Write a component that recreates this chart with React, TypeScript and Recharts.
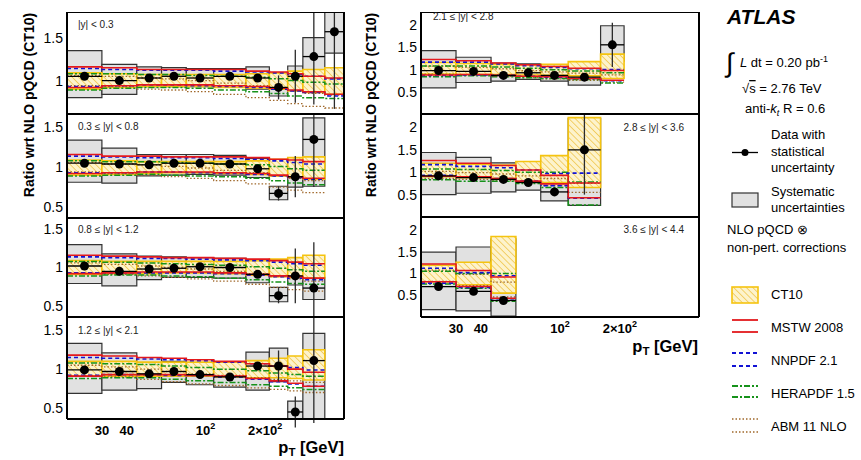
import React from "react";
import {
  ComposedChart,
  XAxis,
  YAxis,
  Line,
  Scatter,
  ErrorBar,
  ReferenceArea,
} from "recharts";

const FONT = '"Liberation Sans", Arial, Helvetica, sans-serif';

// jet pT bin edges [GeV]
const PT_EDGES = [20, 30, 45, 60, 80, 110, 160, 210, 260, 310, 400, 500];
const PT_DOMAIN: [number, number] = [20, 500];

const RAPIDITY_LABELS = [
  "|y| < 0.3",
  "0.3 \u2264 |y| < 0.8",
  "0.8 \u2264 |y| < 1.2",
  "1.2 \u2264 |y| < 2.1",
  "2.1 \u2264 |y| < 2.8",
  "2.8 \u2264 |y| < 3.6",
  "3.6 \u2264 |y| < 4.4",
];

// tick labels on the pT axis
const PT_LABEL_TICKS = [30, 40, 100, 200];
const PT_LABEL_BASE = ["30", "40", "10", "2\u00d710"];
const PT_LABEL_EXP = ["", "", "2", "2"];
const PT_MINOR_TICKS = [20, 30, 40, 50, 60, 70, 80, 90, 200, 300, 400, 500];
const PT_MAJOR_TICKS = [100];

// data / NLO (CT10), one row per rapidity bin
const dataRatio = [
  [1.05, 1.0, 1.03, 1.05, 1.03, 1.05, 1.03, 0.92, 1.05, 1.28, 1.57],
  [1.05, 1.04, 1.03, 1.05, 1.05, 1.04, 0.98, 0.67, 0.88, 1.35],
  [1.02, 0.95, 0.98, 0.99, 1.01, 1.0, 0.91, 0.63, 0.89, 0.73],
  [0.99, 0.97, 0.94, 0.97, 0.93, 0.9, 1.04, 1.04, 0.45, 1.11],
  [0.98, 0.96, 0.87, 0.93, 0.87, 0.83, 1.56],
  [0.92, 0.88, 0.84, 0.77, 0.56, 1.5],
  [0.7, 0.59, 0.38],
];

const statErr = [
  [0.01, 0.01, 0.01, 0.01, 0.01, 0.015, 0.02, 0.14, 0.31, 0.56, 0.9],
  [0.01, 0.01, 0.01, 0.01, 0.01, 0.015, 0.05, 0.09, 0.26, 0.6],
  [0.01, 0.01, 0.01, 0.01, 0.01, 0.015, 0.04, 0.1, 0.36, 0.6],
  [0.01, 0.01, 0.01, 0.01, 0.01, 0.02, 0.05, 0.2, 0.2, 0.8],
  [0.01, 0.01, 0.01, 0.015, 0.02, 0.03, 0.5],
  [0.01, 0.01, 0.015, 0.02, 0.04, 1.0],
  [0.02, 0.03, 0.05],
];

const sysLow = [
  [0.8, 0.84, 0.93, 0.93, 0.93, 0.92, 0.9, 0.82, 0.93, 1.09, 1.32],
  [0.81, 0.8, 0.89, 0.9, 0.91, 0.9, 0.87, 0.59, 0.75, 0.76],
  [0.79, 0.76, 0.84, 0.87, 0.87, 0.86, 0.8, 0.55, 0.77, 0.58],
  [0.69, 0.73, 0.75, 0.83, 0.8, 0.77, 0.73, 0.84, 0.36, 0.36],
  [0.59, 0.71, 0.74, 0.78, 0.74, 0.65, 1.19],
  [0.5, 0.53, 0.56, 0.6, 0.36, 0.26],
  [0.17, 0.14, 0.02],
];

const sysHigh = [
  [1.35, 1.19, 1.16, 1.15, 1.14, 1.14, 1.16, 1.02, 1.17, 1.5, 1.9],
  [1.34, 1.24, 1.16, 1.16, 1.16, 1.15, 1.11, 0.76, 1.12, 1.62],
  [1.3, 1.18, 1.15, 1.14, 1.13, 1.12, 1.05, 0.74, 1.08, 0.87],
  [1.33, 1.21, 1.15, 1.1, 1.08, 1.05, 1.22, 1.27, 0.59, 1.46],
  [1.43, 1.28, 1.15, 1.13, 1.09, 1.11, 1.99],
  [1.44, 1.33, 1.21, 1.13, 1.05, 2.2],
  [1.49, 1.61, 1.8],
];

const ct10Low = [
  [0.9, 0.92, 0.93, 0.93, 0.93, 0.92, 0.91, 0.9, 0.88, 0.86, 0.84],
  [0.9, 0.91, 0.92, 0.93, 0.93, 0.92, 0.91, 0.89, 0.87, 0.85],
  [0.91, 0.92, 0.92, 0.93, 0.93, 0.92, 0.9, 0.88, 0.87, 0.86],
  [0.91, 0.91, 0.91, 0.91, 0.91, 0.9, 0.89, 0.89, 0.88, 0.86],
  [0.9, 0.89, 0.89, 0.88, 0.87, 0.86, 0.8],
  [0.9, 0.88, 0.86, 0.78, 0.77, 0.66],
  [0.81, 0.74, 0.55],
];

const ct10High = [
  [1.09, 1.08, 1.07, 1.07, 1.07, 1.07, 1.08, 1.09, 1.11, 1.13, 1.15],
  [1.09, 1.08, 1.07, 1.07, 1.07, 1.07, 1.08, 1.1, 1.12, 1.13],
  [1.09, 1.08, 1.08, 1.08, 1.08, 1.08, 1.09, 1.11, 1.13, 1.16],
  [1.1, 1.1, 1.09, 1.09, 1.09, 1.09, 1.11, 1.14, 1.17, 1.25],
  [1.16, 1.14, 1.12, 1.11, 1.12, 1.18, 1.35],
  [1.2, 1.18, 1.16, 1.24, 1.37, 2.22],
  [1.19, 1.26, 1.85],
];

const mstwLow = [
  [0.92, 0.94, 0.95, 0.95, 0.95, 0.94, 0.93, 0.91, 0.89, 0.87, 0.84],
  [0.92, 0.93, 0.94, 0.94, 0.94, 0.93, 0.92, 0.9, 0.88, 0.86],
  [0.92, 0.93, 0.94, 0.94, 0.94, 0.93, 0.91, 0.89, 0.88, 0.86],
  [0.91, 0.93, 0.93, 0.93, 0.92, 0.91, 0.88, 0.85, 0.82, 0.78],
  [0.88, 0.89, 0.87, 0.85, 0.84, 0.8, 0.76],
  [0.91, 0.9, 0.86, 0.8, 0.74, 0.43],
  [0.81, 0.7, 0.43],
];

const mstwHigh = [
  [1.16, 1.15, 1.13, 1.13, 1.13, 1.13, 1.11, 1.1, 1.08, 1.05, 1.03],
  [1.16, 1.14, 1.14, 1.13, 1.13, 1.13, 1.12, 1.1, 1.09, 1.07],
  [1.16, 1.15, 1.14, 1.13, 1.13, 1.12, 1.11, 1.09, 1.07, 1.05],
  [1.18, 1.17, 1.15, 1.14, 1.12, 1.1, 1.07, 1.04, 1.0, 0.96],
  [1.23, 1.2, 1.15, 1.11, 1.07, 1.03, 0.98],
  [1.26, 1.2, 1.15, 1.05, 0.93, 0.76],
  [1.22, 1.07, 0.92],
];

const nnpdfLow = [
  [0.93, 0.94, 0.95, 0.95, 0.94, 0.93, 0.92, 0.9, 0.88, 0.86, 0.82],
  [0.93, 0.93, 0.94, 0.94, 0.93, 0.92, 0.91, 0.89, 0.87, 0.85],
  [0.93, 0.93, 0.93, 0.93, 0.93, 0.92, 0.9, 0.88, 0.86, 0.84],
  [0.92, 0.93, 0.93, 0.92, 0.92, 0.9, 0.87, 0.84, 0.81, 0.78],
  [0.87, 0.88, 0.87, 0.85, 0.83, 0.8, 0.75],
  [0.93, 0.9, 0.86, 0.8, 0.7, 0.42],
  [0.78, 0.68, 0.42],
];

const nnpdfHigh = [
  [1.14, 1.13, 1.12, 1.12, 1.12, 1.11, 1.1, 1.09, 1.07, 1.05, 1.02],
  [1.14, 1.13, 1.12, 1.12, 1.12, 1.11, 1.1, 1.08, 1.06, 1.04],
  [1.14, 1.13, 1.12, 1.12, 1.11, 1.1, 1.09, 1.07, 1.05, 1.03],
  [1.15, 1.14, 1.13, 1.12, 1.11, 1.09, 1.07, 1.04, 1.02, 0.99],
  [1.17, 1.17, 1.13, 1.09, 1.05, 1.02, 1.0],
  [1.17, 1.13, 1.1, 1.05, 0.97, 0.98],
  [1.12, 1.02, 0.95],
];

const heraLow = [
  [0.89, 0.91, 0.92, 0.92, 0.91, 0.89, 0.87, 0.85, 0.82, 0.8, 0.79],
  [0.89, 0.9, 0.91, 0.9, 0.89, 0.88, 0.86, 0.83, 0.8, 0.78],
  [0.89, 0.9, 0.9, 0.89, 0.88, 0.86, 0.84, 0.81, 0.79, 0.78],
  [0.88, 0.89, 0.89, 0.87, 0.85, 0.83, 0.8, 0.78, 0.76, 0.74],
  [0.84, 0.86, 0.84, 0.82, 0.8, 0.78, 0.7],
  [0.83, 0.8, 0.8, 0.75, 0.66, 0.27],
  [0.76, 0.66, 0.36],
];

const heraHigh = [
  [1.08, 1.08, 1.07, 1.07, 1.06, 1.05, 1.04, 1.02, 1.0, 0.98, 0.96],
  [1.08, 1.07, 1.07, 1.06, 1.05, 1.04, 1.03, 1.01, 0.98, 0.96],
  [1.08, 1.07, 1.06, 1.05, 1.04, 1.03, 1.01, 0.99, 0.97, 0.95],
  [1.08, 1.07, 1.06, 1.04, 1.02, 1.0, 0.98, 0.95, 0.93, 0.91],
  [1.08, 1.08, 1.06, 1.03, 1.0, 0.97, 0.93],
  [1.07, 1.06, 1.04, 1.0, 1.0, 0.78],
  [1.05, 1.0, 1.0],
];

const abmLow = [
  [0.94, 0.93, 0.9, 0.89, 0.87, 0.84, 0.8, 0.77, 0.73, 0.7, 0.68],
  [0.94, 0.92, 0.9, 0.88, 0.86, 0.83, 0.79, 0.75, 0.71, 0.68],
  [0.93, 0.91, 0.89, 0.87, 0.85, 0.82, 0.78, 0.74, 0.71, 0.69],
  [0.92, 0.9, 0.87, 0.84, 0.81, 0.79, 0.76, 0.74, 0.72, 0.7],
  [0.9, 0.88, 0.85, 0.82, 0.79, 0.76, 0.72],
  [0.86, 0.84, 0.81, 0.77, 0.7, 0.55],
  [0.82, 0.72, 0.46],
];

const abmHigh = [
  [1.06, 1.05, 1.03, 1.02, 1.0, 0.97, 0.94, 0.91, 0.88, 0.85, 0.83],
  [1.06, 1.04, 1.03, 1.01, 0.99, 0.96, 0.93, 0.89, 0.86, 0.83],
  [1.06, 1.04, 1.02, 1.0, 0.98, 0.95, 0.92, 0.88, 0.85, 0.82],
  [1.05, 1.03, 1.0, 0.97, 0.94, 0.92, 0.89, 0.87, 0.85, 0.83],
  [1.08, 1.05, 1.02, 0.98, 0.95, 0.92, 0.88],
  [1.02, 0.99, 0.96, 0.92, 0.86, 0.75],
  [1.08, 0.98, 0.8],
];

const COLORS = {
  ct10Edge: "#f5c40f",
  ct10Line: "#ebb928",
  ct10Fill: "#fdf3cc",
  mstw: "#e3191c",
  nnpdf: "#1212d4",
  hera: "#16921a",
  abm: "#a0682a",
  sysFill: "#e1e1e1",
  sysEdge: "#333333",
};

// axes that only carry tick marks get a near-zero thickness so they take no room
const THIN = 0.01;

type PanelBox = {
  left: number;
  top: number;
  height: number;
  marginLeft: number;
  marginRight: number;
  yDomain: [number, number];
  yMajor: number[];
  labelX: number;
  labelY: number;
  labelAnchor: "start" | "end";
  ptAxis: boolean;
};

const PANELS: PanelBox[] = [
  { left: 0, top: 12, height: 102, marginLeft: 67, marginRight: 16, yDomain: [0.61, 1.8], yMajor: [1, 1.5], labelX: 78, labelY: 27.5, labelAnchor: "start", ptAxis: false },
  { left: 0, top: 114, height: 104, marginLeft: 67, marginRight: 16, yDomain: [0.36, 1.67], yMajor: [0.5, 1, 1.5], labelX: 78, labelY: 129.5, labelAnchor: "start", ptAxis: false },
  { left: 0, top: 218, height: 99, marginLeft: 67, marginRight: 16, yDomain: [0.35, 1.65], yMajor: [0.5, 1, 1.5], labelX: 78, labelY: 232.5, labelAnchor: "start", ptAxis: false },
  { left: 0, top: 317, height: 102, marginLeft: 67, marginRight: 16, yDomain: [0.36, 1.67], yMajor: [0.5, 1, 1.5], labelX: 78, labelY: 333.5, labelAnchor: "start", ptAxis: true },
  { left: 360, top: 12, height: 102, marginLeft: 61, marginRight: 21, yDomain: [0, 2.3], yMajor: [0.5, 1, 1.5, 2], labelX: 433, labelY: 20, labelAnchor: "start", ptAxis: false },
  { left: 360, top: 114, height: 103, marginLeft: 61, marginRight: 21, yDomain: [0, 2.3], yMajor: [0.5, 1, 1.5, 2], labelX: 684, labelY: 130.5, labelAnchor: "end", ptAxis: false },
  { left: 360, top: 217, height: 100, marginLeft: 61, marginRight: 21, yDomain: [0, 2.3], yMajor: [0.5, 1, 1.5, 2], labelX: 684, labelY: 232.5, labelAnchor: "end", ptAxis: true },
];

function minorTicks([lo, hi]: [number, number]) {
  const out: number[] = [];
  for (let k = Math.ceil(lo * 10); k <= Math.floor(hi * 10); k++) out.push(k / 10);
  return out;
}

function PtTick(props: any) {
  const { x, y, payload } = props;
  const k = PT_LABEL_TICKS.indexOf(payload.value);
  if (k < 0) return null;
  return (
    <text x={x} y={y + 16} textAnchor="middle" fontFamily={FONT} fontSize={13} fontWeight="bold" fill="#000">
      <tspan>{PT_LABEL_BASE[k]}</tspan>
      {PT_LABEL_EXP[k] && (
        <tspan dy={-6} fontSize={9}>
          {PT_LABEL_EXP[k]}
        </tspan>
      )}
    </text>
  );
}

const DataDot = (p: any) => <circle cx={p.cx} cy={p.cy} r={4.5} fill="#000" />;

function RatioPanel({ index }: { index: number }) {
  const box = PANELS[index];
  const n = dataRatio[index].length;
  const edges = PT_EDGES.slice(0, n + 1);

  // histogram steps: one row per bin edge, last edge repeats last bin
  const steps = edges.map((pt, i) => {
    const b = Math.min(i, n - 1);
    return {
      pt,
      mstwLo: mstwLow[index][b],
      mstwHi: mstwHigh[index][b],
      nnpdfLo: nnpdfLow[index][b],
      nnpdfHi: nnpdfHigh[index][b],
      heraLo: heraLow[index][b],
      heraHi: heraHigh[index][b],
      abmLo: abmLow[index][b],
      abmHi: abmHigh[index][b],
    };
  });

  const points = dataRatio[index].map((ratio, i) => {
    const c = Math.sqrt(edges[i] * edges[i + 1]);
    return { pt: c, ratio, ptErr: [c - edges[i], edges[i + 1] - c], stat: statErr[index][i] };
  });

  const extra = box.ptAxis ? 30 : 0;
  const yMinor = minorTicks(box.yDomain);
  const frame = { stroke: "#000", strokeWidth: 2 };

  return (
    <div style={{ position: "absolute", left: box.left, top: box.top }}>
      <ComposedChart
        width={360}
        height={box.height + extra}
        data={steps}
        margin={{ top: 0, right: box.marginRight, bottom: extra, left: box.marginLeft }}
      >
        <XAxis dataKey="pt" type="number" scale="log" domain={PT_DOMAIN} allowDataOverflow
          orientation="bottom" mirror height={THIN} ticks={PT_MAJOR_TICKS} interval={0}
          tick={false} tickSize={9} stroke="#000" axisLine={frame} />
        <XAxis xAxisId="bMinor" dataKey="pt" type="number" scale="log" domain={PT_DOMAIN} allowDataOverflow
          orientation="bottom" mirror height={THIN} ticks={PT_MINOR_TICKS} interval={0}
          tick={false} tickSize={5} stroke="#000" axisLine={false} />
        <XAxis xAxisId="tMajor" dataKey="pt" type="number" scale="log" domain={PT_DOMAIN} allowDataOverflow
          orientation="top" mirror height={THIN} ticks={PT_MAJOR_TICKS} interval={0}
          tick={false} tickSize={9} stroke="#000" axisLine={frame} />
        <XAxis xAxisId="tMinor" dataKey="pt" type="number" scale="log" domain={PT_DOMAIN} allowDataOverflow
          orientation="top" mirror height={THIN} ticks={PT_MINOR_TICKS} interval={0}
          tick={false} tickSize={5} stroke="#000" axisLine={false} />
        {box.ptAxis && (
          <XAxis xAxisId="ptLabels" dataKey="pt" type="number" scale="log" domain={PT_DOMAIN} allowDataOverflow
            orientation="bottom" height={THIN} ticks={PT_LABEL_TICKS} interval={0}
            tick={<PtTick />} tickLine={false} tickSize={0} tickMargin={0} axisLine={false} />
        )}

        <YAxis type="number" domain={box.yDomain} allowDataOverflow width={THIN}
          ticks={box.yMajor} interval={0} tickLine={false} tickSize={0} tickMargin={4}
          tick={{ fontSize: 14, fill: "#000", fontFamily: FONT }} stroke="#000" axisLine={frame} />
        <YAxis yAxisId="lMajor" type="number" domain={box.yDomain} allowDataOverflow width={THIN} mirror
          ticks={box.yMajor} interval={0} tick={false} tickSize={9} stroke="#000" axisLine={false} />
        <YAxis yAxisId="lMinor" type="number" domain={box.yDomain} allowDataOverflow width={THIN} mirror
          ticks={yMinor} interval={0} tick={false} tickSize={4.5} stroke="#000" axisLine={false} />
        <YAxis yAxisId="rMajor" orientation="right" type="number" domain={box.yDomain} allowDataOverflow width={THIN} mirror
          ticks={box.yMajor} interval={0} tick={false} tickSize={9} stroke="#000" axisLine={frame} />
        <YAxis yAxisId="rMinor" orientation="right" type="number" domain={box.yDomain} allowDataOverflow width={THIN} mirror
          ticks={yMinor} interval={0} tick={false} tickSize={4.5} stroke="#000" axisLine={false} />

        {/* systematic uncertainty boxes */}
        {sysLow[index].map((lo, i) => (
          <ReferenceArea key={`sys${i}`} x1={edges[i]} x2={edges[i + 1]} y1={lo} y2={sysHigh[index][i]}
            ifOverflow="hidden" fill={COLORS.sysFill} fillOpacity={1} stroke={COLORS.sysEdge} strokeWidth={1.2} />
        ))}
        {/* CT10 uncertainty band */}
        {ct10Low[index].map((lo, i) => (
          <ReferenceArea key={`ct${i}`} x1={edges[i]} x2={edges[i + 1]} y1={lo} y2={ct10High[index][i]}
            ifOverflow="hidden" fill="url(#ct10Hatch)" fillOpacity={1} stroke={COLORS.ct10Edge} strokeWidth={1.6} />
        ))}

        <Line dataKey="abmLo" type="stepAfter" stroke={COLORS.abm} strokeWidth={1.3} strokeDasharray="1.5 2" dot={false} activeDot={false} isAnimationActive={false} />
        <Line dataKey="abmHi" type="stepAfter" stroke={COLORS.abm} strokeWidth={1.3} strokeDasharray="1.5 2" dot={false} activeDot={false} isAnimationActive={false} />
        <Line dataKey="heraLo" type="stepAfter" stroke={COLORS.hera} strokeWidth={1.5} strokeDasharray="6 2 2 2" dot={false} activeDot={false} isAnimationActive={false} />
        <Line dataKey="heraHi" type="stepAfter" stroke={COLORS.hera} strokeWidth={1.5} strokeDasharray="6 2 2 2" dot={false} activeDot={false} isAnimationActive={false} />
        <Line dataKey="nnpdfLo" type="stepAfter" stroke={COLORS.nnpdf} strokeWidth={1.6} strokeDasharray="4 3" dot={false} activeDot={false} isAnimationActive={false} />
        <Line dataKey="nnpdfHi" type="stepAfter" stroke={COLORS.nnpdf} strokeWidth={1.6} strokeDasharray="4 3" dot={false} activeDot={false} isAnimationActive={false} />
        <Line dataKey="mstwLo" type="stepAfter" stroke={COLORS.mstw} strokeWidth={1.6} dot={false} activeDot={false} isAnimationActive={false} />
        <Line dataKey="mstwHi" type="stepAfter" stroke={COLORS.mstw} strokeWidth={1.6} dot={false} activeDot={false} isAnimationActive={false} />

        <Scatter data={points} dataKey="ratio" shape={DataDot} isAnimationActive={false}>
          <ErrorBar dataKey="ptErr" direction="x" width={0} stroke="#000" strokeWidth={1.3} isAnimationActive={false} />
          <ErrorBar dataKey="stat" direction="y" width={0} stroke="#2a2a2a" strokeWidth={1.3} isAnimationActive={false} />
        </Scatter>
      </ComposedChart>
    </div>
  );
}

function Annotations() {
  const t = { fontFamily: FONT, fill: "#000" };
  return (
    <svg width={861} height={460} style={{ position: "absolute", left: 0, top: 0, pointerEvents: "none" }}>
      {PANELS.map((p, i) => (
        <text key={i} x={p.labelX} y={p.labelY} textAnchor={p.labelAnchor} fontSize={10} {...t} fill="#222">
          {RAPIDITY_LABELS[i]}
        </text>
      ))}

      <text transform="translate(29,105) rotate(-90)" textAnchor="middle" dominantBaseline="central" fontSize={14} fontWeight="bold" {...t}>
        Ratio wrt NLO pQCD (CT10)
      </text>
      <text transform="translate(371,105) rotate(-90)" textAnchor="middle" dominantBaseline="central" fontSize={14} fontWeight="bold" {...t}>
        Ratio wrt NLO pQCD (CT10)
      </text>

      <text x={344} y={453} textAnchor="end" fontSize={16.5} fontWeight="bold" {...t}>
        p<tspan fontSize={11.5} dy={3}>T</tspan>
        <tspan dy={-3}> [GeV]</tspan>
      </text>
      <text x={698} y={352} textAnchor="end" fontSize={16.5} fontWeight="bold" {...t}>
        p<tspan fontSize={11.5} dy={3}>T</tspan>
        <tspan dy={-3}> [GeV]</tspan>
      </text>

      {/* legend block */}
      <text x={727} y={24} fontSize={21} fontWeight="bold" fontStyle="italic" {...t}>ATLAS</text>
      <text x={726} y={72} fontSize={27} {...t}>{"\u222B"}</text>
      <text x={740} y={67} fontSize={13} {...t}>
        <tspan fontStyle="italic">L</tspan> dt = 0.20 pb<tspan dy={-5} fontSize={9}>-1</tspan>
      </text>
      <text x={742} y={93} fontSize={13} {...t}>
        {"\u221A"}<tspan textDecoration="overline">s</tspan> = 2.76 TeV
      </text>
      <text x={745} y={113} fontSize={13} {...t}>
        anti-<tspan fontStyle="italic">k</tspan><tspan fontStyle="italic" fontSize={9} dy={3}>t</tspan>
        <tspan dy={-3}> R = 0.6</tspan>
      </text>

      <line x1={732} x2={758} y1={152.5} y2={152.5} stroke="#000" strokeWidth={1.3} />
      <circle cx={745} cy={152.5} r={3.5} fill="#000" />
      <text x={771} y={138.5} fontSize={13} {...t}>Data with</text>
      <text x={771} y={155.5} fontSize={13} {...t}>statistical</text>
      <text x={771} y={172} fontSize={13} {...t}>uncertainty</text>

      <rect x={732} y={193} width={26} height={14} fill={COLORS.sysFill} stroke={COLORS.sysEdge} strokeWidth={1.2} />
      <text x={771} y={196} fontSize={13} {...t}>Systematic</text>
      <text x={771} y={212} fontSize={13} {...t}>uncertainties</text>

      <text x={727} y={234} fontSize={13} {...t}>NLO pQCD {"\u2297"}</text>
      <text x={727} y={252} fontSize={13} {...t}>non-pert. corrections</text>

      <rect x={732} y={287} width={26} height={16} fill="url(#ct10Hatch)" stroke={COLORS.ct10Edge} strokeWidth={1.6} />
      <text x={771} y={299} fontSize={13} {...t}>CT10</text>

      <line x1={732} x2={758} y1={320} y2={320} stroke={COLORS.mstw} strokeWidth={1.8} />
      <line x1={732} x2={758} y1={332} y2={332} stroke={COLORS.mstw} strokeWidth={1.8} />
      <text x={771} y={332} fontSize={13} {...t}>MSTW 2008</text>

      <line x1={732} x2={758} y1={353} y2={353} stroke={COLORS.nnpdf} strokeWidth={1.8} strokeDasharray="4 3" />
      <line x1={732} x2={758} y1={366} y2={366} stroke={COLORS.nnpdf} strokeWidth={1.8} strokeDasharray="4 3" />
      <text x={771} y={365} fontSize={13} {...t}>NNPDF 2.1</text>

      <line x1={732} x2={758} y1={386} y2={386} stroke={COLORS.hera} strokeWidth={1.8} strokeDasharray="6 2 2 2" />
      <line x1={732} x2={758} y1={397} y2={397} stroke={COLORS.hera} strokeWidth={1.8} strokeDasharray="6 2 2 2" />
      <text x={771} y={397.5} fontSize={13} {...t}>HERAPDF 1.5</text>

      <line x1={732} x2={758} y1={419} y2={419} stroke={COLORS.abm} strokeWidth={1.4} strokeDasharray="1.5 2" />
      <line x1={732} x2={758} y1={432} y2={432} stroke={COLORS.abm} strokeWidth={1.4} strokeDasharray="1.5 2" />
      <text x={771} y={431} fontSize={13} {...t}>ABM 11 NLO</text>
    </svg>
  );
}

export default function App() {
  return (
    <div style={{ position: "absolute", left: 0, top: 0, width: 861, height: 460, background: "#fff", fontFamily: FONT, overflow: "hidden" }}>
      <svg width={0} height={0} style={{ position: "absolute" }}>
        <defs>
          <pattern id="ct10Hatch" patternUnits="userSpaceOnUse" width={4.5} height={4.5} patternTransform="rotate(-45)">
            <rect width={4.5} height={4.5} fill={COLORS.ct10Fill} />
            <line x1={0} y1={0} x2={0} y2={4.5} stroke={COLORS.ct10Line} strokeWidth={1.2} />
          </pattern>
        </defs>
      </svg>
      {PANELS.map((_, i) => (
        <RatioPanel key={i} index={i} />
      ))}
      <Annotations />
    </div>
  );
}
